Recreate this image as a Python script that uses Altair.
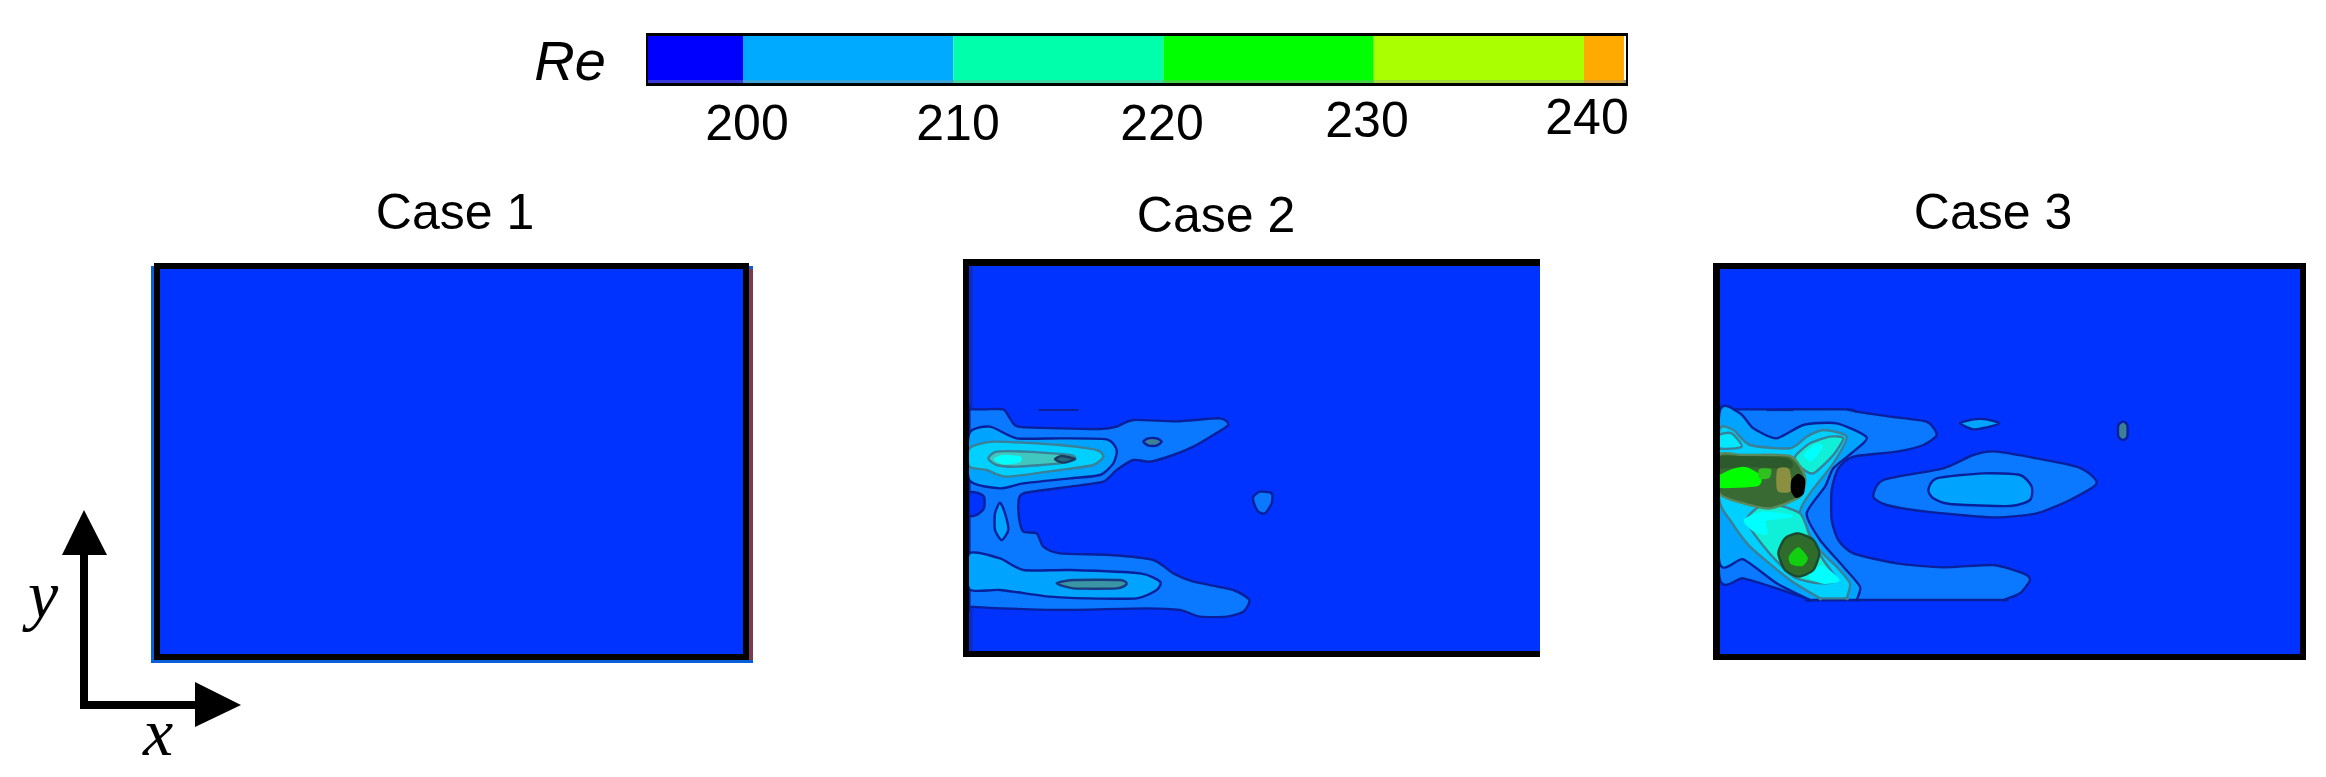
import altair as alt

# ---------- text and values ----------
COLORBAR_EDGES = [200, 210, 220, 230, 240]
COLORBAR_LOW, COLORBAR_HIGH = 195.4, 241.9
COLORBAR_COLORS = ["#0000ff", "#00aaff", "#00ffaa", "#00ff00", "#aaff00", "#ffaa00"]
CASES = ["Case 1", "Case 2", "Case 3"]

BG = "#0033ff"
L1 = "#0a78ff"
L2 = "#00a4ff"
L3 = "#00d0ff"
L4 = "#10f0d8"
NAVY = "#0a1f9a"
GREY = "#3a8096"

C2 = [
 (L1,NAVY,[(28,88),(28,88),(75,88),(130,88),(150,115),(175,140),(300,145),(420,147),(470,140),(520,120),(650,124),(780,115),(805,135),(760,165),(700,200),(640,225),(570,245),(520,240),(470,270),(430,305),(330,320),(190,340),(175,370),(178,420),(190,455),(230,460),(250,500),(300,520),(450,525),(580,540),(640,580),(700,605),(820,630),(868,660),(850,695),(800,710),(720,710),(660,690),(560,685),(300,690),(120,685),(28,680),(28,680),(28,400)]),
 (BG,NAVY,[(28,340),(50,338),(72,350),(72,385),(50,405),(28,405)]),
 (L1,NAVY,[(880,350),(900,335),(935,340),(935,370),(915,400),(895,395),(882,370)]),
 (GREY,NAVY,[(550,185),(565,175),(590,175),(605,185),(590,197),(565,197)]),
 (L2,NAVY,[(105,400),(120,368),(135,400),(145,450),(125,480),(105,450)]),
 (L2,NAVY,[(28,160),(90,140),(170,175),(300,175),(440,178),(470,210),(460,250),(420,285),(330,295),(190,310),(120,325),(28,300)]),
 (L2,NAVY,[(28,520),(120,535),(190,570),(330,570),(540,580),(600,605),(590,630),(530,655),(380,655),(270,650),(120,630),(28,628)]),
 (L3,GREY,[(28,205),(100,185),(300,195),(410,210),(430,230),(400,255),(300,270),(140,290),(80,270),(28,260)]),
 ("#40c8c0",GREY,[(85,235),(110,215),(200,215),(330,225),(345,237),(300,250),(170,260),(110,255)]),
 ("#00ffff","#00ffff",[(105,238),(130,228),(180,232),(175,245),(130,250)]),
 ("#2a6a80","#1a3a60",[(285,238),(305,228),(345,237),(310,248)]),
 ("#3a95a5","#1a3a80",[(290,610),(340,600),(480,600),(500,612),(470,625),(340,625)]),
]
C2_DASH = [(235,90),(355,90)]

C3 = [
 (L1,NAVY,[(28,88),(28,88),(200,88),(415,88),(440,95),(540,110),(650,125),(680,165),(640,195),(560,215),(430,230),(385,265),(365,330),(365,420),(385,480),(430,520),(560,550),(700,562),(850,555),(940,580),(960,600),(930,640),(880,660),(880,660),(600,660),(300,660),(300,660),(200,625),(100,595),(28,590)]),
 (L1,NAVY,[(490,350),(520,300),(700,265),(790,225),(860,215),(1100,260),(1160,310),(1080,360),(980,400),(850,412),(650,395),(530,375)]),
 (L2,NAVY,[(655,330),(680,295),(820,280),(930,285),(965,320),(960,360),(900,378),(720,372),(670,355)]),
 (L2,NAVY,[(750,130),(790,118),(830,118),(868,130),(830,142),(790,148)]),
 (GREY,NAVY,[(1225,135),(1240,125),(1252,135),(1252,170),(1240,180),(1225,170)]),
 (L2,NAVY,[(28,100),(90,100),(130,145),(200,175),(280,135),(380,130),(470,172),(430,215),(370,265),(345,320),(290,400),(330,480),(400,560),(450,620),(440,660),(440,660),(300,660),(300,660),(200,610),(100,538),(28,545)]),
 (L3,GREY,[(28,150),(70,150),(120,195),(240,205),(290,170),(340,150),(410,170),(370,250),(300,340),(270,400),(320,500),(380,560),(420,610),(410,655),(410,655),(330,655),(330,655),(240,600),(120,500),(60,420),(28,360)]),
 ("#00e8ff",GREY,[(28,165),(65,160),(95,200),(28,205)]),
 (L4,GREY,[(255,230),(300,190),(360,170),(400,175),(370,225),(310,280),(270,260)]),
 (L4,GREY,[(110,420),(170,370),(270,400),(300,470),(340,540),(380,600),(330,610),(250,590),(170,510)]),
 ("#00ffff","#00ffff",[(105,420),(160,398),(245,408),(165,420),(170,460),(130,450)]),
 ("#00ffff","#00ffff",[(300,590),(335,560),(385,600),(340,608)]),
 ("#00ffff","#00ffff",[(285,225),(320,195),(335,200),(305,240)]),
 ("#3a6a34","#5a8a60",[(28,225),(100,225),(240,228),(285,290),(270,350),(180,385),(100,370),(28,340)]),
 ("#2c5a2c","#2c5a2c",[(28,232),(120,232),(230,238),(240,262),(120,258),(28,262)]),
 ("#00ff00","#00ff00",[(28,290),(70,270),(110,265),(150,290),(140,315),(28,320)]),
 ("#30c020","#30c020",[(150,270),(180,270),(175,292),(150,292)]),
 ("#8a9040","#8a9040",[(205,270),(235,270),(240,330),(205,330)]),
 ("#000000","#000000",[(248,300),(265,285),(282,300),(278,340),(258,350),(246,330)]),
 ("#2f6b2a","#1a4a30",[(205,520),(225,475),(265,460),(310,480),(328,520),(310,570),(265,590),(225,570)]),
 ("#10d010","#10d010",[(240,530),(265,505),(290,535),(275,555),(245,550)]),
]
C3_DASHES = [[(170,90),(250,90)],[(410,88),(440,95)]]

xs = alt.Scale(domain=[8, 2318], range=[0, 2310])
ys = alt.Scale(domain=[8, 769], range=[0, 761])
X = alt.X("x:Q", scale=xs, axis=None)
Y = alt.Y("y:Q", scale=ys, axis=None)


def shape(points, fill, stroke="none", sw=0, ox=0, oy=0, interp="cardinal-closed"):
    rows = [{"x": ox + p[0] / 3, "y": oy + p[1] / 3, "o": i} for i, p in enumerate(points)]
    return alt.Chart(alt.Data(values=rows)).mark_line(
        interpolate=interp, tension=0.35, fill=fill, stroke=stroke, strokeWidth=sw, strokeJoin="round"
    ).encode(x=X, y=Y, order="o:Q")


def rects(rows, color, opacity=1):
    return alt.Chart(alt.Data(values=rows)).mark_rect(color=color, opacity=opacity).encode(
        x=X, y=Y, x2="x2:Q", y2="y2:Q"
    )


def r(x, y, x2, y2):
    return {"x": x, "y": y, "x2": x2, "y2": y2}


layers = []
# Panel fields and edge fringes
layers.append(rects([r(151, 266, 753, 663)], "#0a5fd8"))
layers.append(rects([r(749, 269, 753, 660)], "#7a3a50"))
layers.append(rects([r(154, 263, 749, 660), r(963, 259, 1540, 657), r(1713, 263, 2306, 660)], BG))
layers.append(rects([r(969, 266, 973, 651)], "#0a2cc8"))

for fill, st, pts in C2:
    layers.append(shape(pts, fill, st, 2.4, 960, 380))
for fill, st, pts in C3:
    layers.append(shape(pts, fill, st, 2.4, 1710, 380))

# dashes
dash_rows = []
for i, (pts, ox) in enumerate([(C2_DASH, 960)] + [(d, 1710) for d in C3_DASHES]):
    for p in pts:
        dash_rows.append({"g": i, "x": ox + p[0] / 3, "y": 380 + p[1] / 3})
layers.append(
    alt.Chart(alt.Data(values=dash_rows)).mark_line(color=NAVY, strokeWidth=2.2).encode(x=X, y=Y, detail="g:N")
)

# Frames drawn on top of the fields
layers.append(rects([
    r(154, 263, 749, 269), r(154, 654, 749, 660), r(154, 263, 160, 660), r(743, 263, 749, 660),
    r(963, 259, 1540, 266), r(963, 651, 1540, 657), r(963, 259, 969, 657),
    r(1713, 263, 2306, 269), r(1713, 654, 2306, 660), r(1713, 263, 1720, 660), r(2300, 263, 2306, 660),
    r(80, 553, 88, 709), r(80, 701, 197, 709),
], "#000000"))
layers.append(shape([(252, 1530), (186, 1665), (321, 1665)], "#000000", interp="linear-closed"))
layers.append(shape([(585, 2046), (585, 2181), (723, 2115)], "#000000", interp="linear-closed"))

# Colour bar, on its own Re scale
re_scale = alt.Scale(domain=[200, 240], range=[735, 1576])
edges = [COLORBAR_LOW] + COLORBAR_EDGES + [COLORBAR_HIGH]
bar_rows = [
    {"a": edges[i], "b": edges[i + 1], "c": COLORBAR_COLORS[i], "y": 36, "y2": 80}
    for i in range(len(COLORBAR_COLORS))
]
band_rows = [dict(q, y=80, y2=83) for q in bar_rows]
layers.append(rects([r(646, 80, 1628, 83)], "#999999"))
for rows, op in [(bar_rows, 1), (band_rows, 0.62)]:
    layers.append(alt.Chart(alt.Data(values=rows)).mark_rect(opacity=op).encode(
        x=alt.X("a:Q", scale=re_scale, axis=None),
        x2="b:Q",
        y=Y,
        y2="y2:Q",
        fill=alt.Color("c:N", scale=None),
    ))
layers.append(rects([
    r(646, 33, 1628, 36), r(646, 83, 1628, 86), r(646, 33, 648, 86), r(1626, 33, 1628, 86),
], "#000000"))

FONT = "Liberation Sans"
labels = [
    {"t": "200", "x": 747, "y": 125},
    {"t": "210", "x": 958, "y": 125},
    {"t": "220", "x": 1162, "y": 125},
    {"t": "230", "x": 1367, "y": 122},
    {"t": "240", "x": 1587, "y": 119},
    {"t": CASES[0], "x": 455, "y": 214},
    {"t": CASES[1], "x": 1216, "y": 217},
    {"t": CASES[2], "x": 1993, "y": 214},
]
layers.append(alt.Chart(alt.Data(values=labels)).mark_text(
    font=FONT, fontSize=50, baseline="middle", align="center", color="#000000"
).encode(x=X, y=Y, text="t:N"))
layers.append(alt.Chart(alt.Data(values=[{"t": "Re", "x": 570, "y": 63}])).mark_text(
    font=FONT, fontSize=56, fontStyle="italic", baseline="middle", align="center", color="#000000"
).encode(x=X, y=Y, text="t:N"))
layers.append(alt.Chart(
    alt.Data(values=[{"t": "y", "x": 43, "y": 598}, {"t": "x", "x": 158, "y": 735}])
).mark_text(
    font="Liberation Serif", fontSize=68, fontStyle="italic", baseline="middle", align="center", color="#000000"
).encode(x=X, y=Y, text="t:N"))

chart = alt.layer(*layers).resolve_scale(x="independent").properties(
    width=2310, height=761, padding=0, background="#ffffff",
    autosize=alt.AutoSizeParams(type="none"),
).configure_view(strokeWidth=0, stroke=None)

chart.save("out.html", embed_options={"renderer": "svg", "actions": False})
